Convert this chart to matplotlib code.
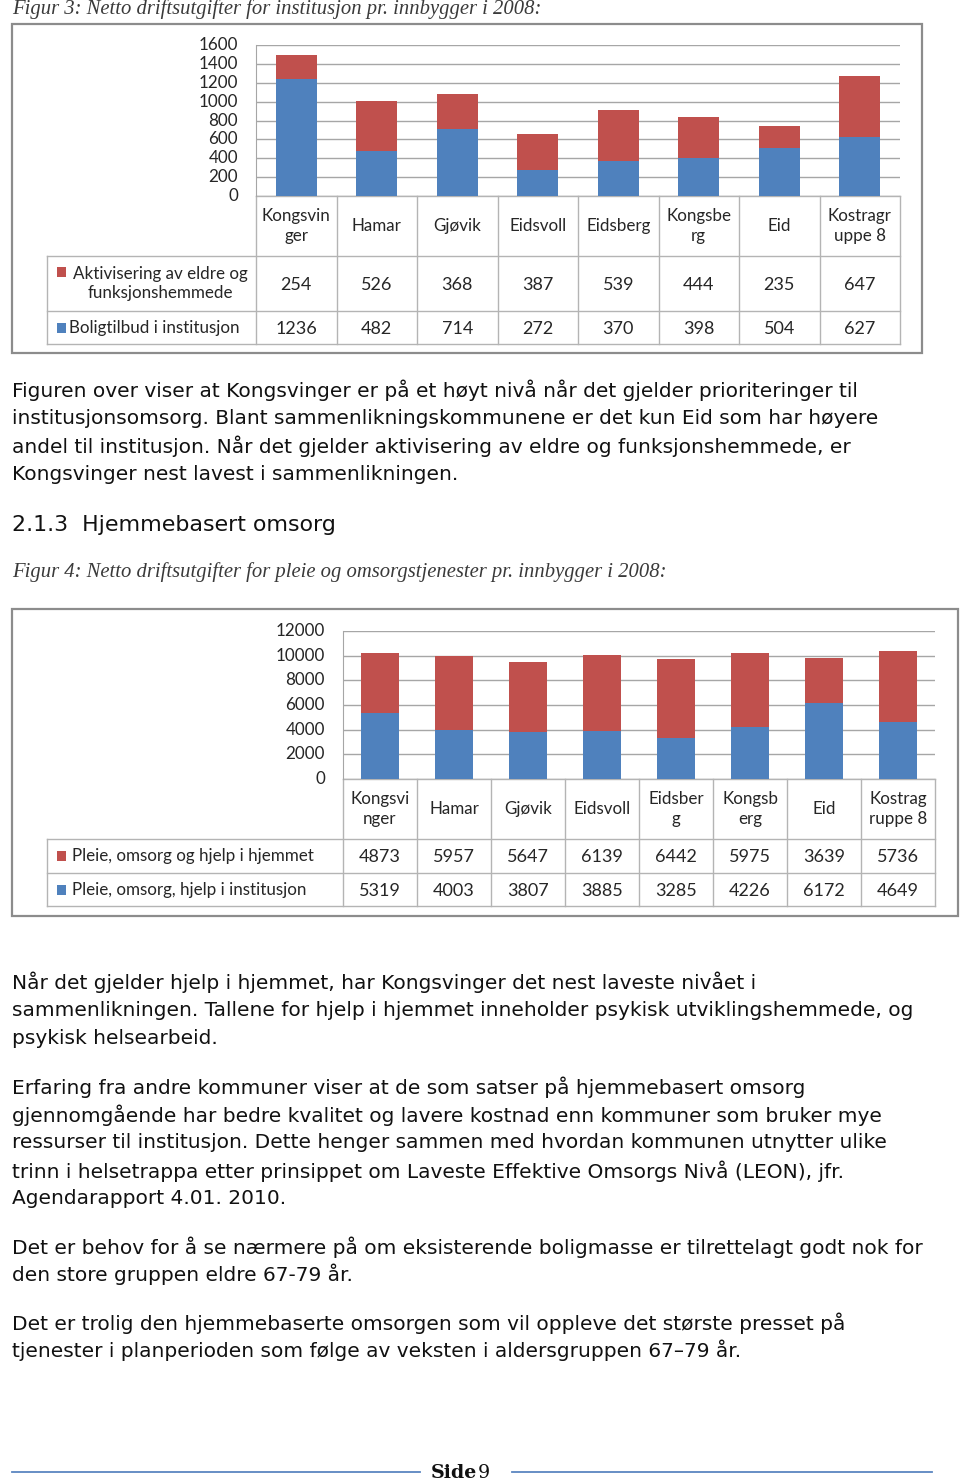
import numpy as np
import matplotlib.pyplot as plt
from matplotlib import transforms
from matplotlib.patches import Rectangle

W, H = 960, 1484

# figur 3 data
cat1 = ['Kongsvin\nger', 'Hamar', 'Gjøvik', 'Eidsvoll', 'Eidsberg', 'Kongsbe\nrg', 'Eid', 'Kostragr\nuppe 8']
aktiv = [254, 526, 368, 387, 539, 444, 235, 647]
bolig = [1236, 482, 714, 272, 370, 398, 504, 627]
ticks1 = [0, 200, 400, 600, 800, 1000, 1200, 1400, 1600]
ser1 = ['Aktivisering av eldre og\nfunksjonshemmede', 'Boligtilbud i institusjon']

# figur 4 data
cat2 = ['Kongsvi\nnger', 'Hamar', 'Gjøvik', 'Eidsvoll', 'Eidsber\ng', 'Kongsb\nerg', 'Eid', 'Kostrag\nruppe 8']
hjem = [4873, 5957, 5647, 6139, 6442, 5975, 3639, 5736]
inst = [5319, 4003, 3807, 3885, 3285, 4226, 6172, 4649]
ticks2 = [0, 2000, 4000, 6000, 8000, 10000, 12000]
ser2 = ['Pleie, omsorg og hjelp i hjemmet', 'Pleie, omsorg, hjelp i institusjon']

RED = '#c0504d'
BLUE = '#4f81bd'
GRID = '#a6a6a6'
CF = 'Lato'       # chart font
BF = 'DejaVu Sans'  # body font


def pt(px):
    return px * 0.72


fig = plt.figure(figsize=(W / 100, H / 100), dpi=100)
page = fig.add_axes([0, 0, 1, 1])
page.set_xlim(0, W)
page.set_ylim(H, 0)
page.axis('off')


def px_axes(x0, y0, x1, y1):
    return fig.add_axes([x0 / W, 1 - y1 / H, (x1 - x0) / W, (y1 - y0) / H])


def chart(box, area, rows, cats, top, bottom, ticks, names, tick_x, lab_x, lab_ha):
    # box = outer frame, area = plot area in page pixels
    x0, y0, x1, y1 = area
    r0, r1, r2, r3 = rows
    page.add_patch(Rectangle((box[0], box[1]), box[2] - box[0], box[3] - box[1],
                             fill=False, ec='#8c8c8c', lw=1.6))
    ax = px_axes(x0, y0, x1, y1)
    n = len(cats)
    idx = np.arange(n)
    ax.bar(idx, bottom, width=0.51, color=BLUE, zorder=3)
    ax.bar(idx, top, width=0.51, bottom=bottom, color=RED, zorder=3)
    ax.set_xlim(-0.5, n - 0.5)
    ax.set_ylim(0, ticks[-1])
    ax.set_yticks(ticks)
    ax.set_xticks([])
    ax.yaxis.grid(True, color=GRID, lw=1, zorder=0)
    ax.set_axisbelow(True)
    ax.patch.set_alpha(0)
    for s in ['top', 'right', 'bottom']:
        ax.spines[s].set_visible(False)
    ax.spines['left'].set_color(GRID)
    ax.tick_params(axis='y', length=0, labelleft=False)
    # y tick labels
    tr_y = transforms.blended_transform_factory(page.transData, ax.transData)
    for t in ticks:
        page.text(tick_x, t, str(t), transform=tr_y, ha='right', va='center',
                  fontsize=pt(17), family=CF, color='#262626')

    # data table under the plot
    tr = transforms.blended_transform_factory(ax.transData, page.transData)
    lc = '#b4b4b4'
    edges = np.arange(n + 1) - 0.5
    for e in edges:
        page.plot([e, e], [r0, r3], transform=tr, color=lc, lw=1)
    page.plot([x0, x1], [r0, r0], color=lc, lw=1)
    for r in [r1, r2, r3]:
        page.plot([47, x1], [r, r], color=lc, lw=1)
    page.plot([47, 47], [r1, r3], color=lc, lw=1)
    for i, c in enumerate(cats):
        page.text(i, (r0 + r1) / 2, c, transform=tr, ha='center', va='center',
                  fontsize=pt(17), family=CF, color='#262626', linespacing=1.35,
                  multialignment='center')
    for i in range(n):
        page.text(i, (r1 + r2) / 2 + 1, str(top[i]), transform=tr, ha='center', va='center',
                  fontsize=pt(18), family=CF, color='#262626')
        page.text(i, (r2 + r3) / 2 + 1, str(bottom[i]), transform=tr, ha='center', va='center',
                  fontsize=pt(18), family=CF, color='#262626')
    # legend keys
    for (ya, yb), col, name, lx, ha in zip([(r1, r2), (r2, r3)], [RED, BLUE], names, lab_x, lab_ha):
        yc = (ya + yb) / 2
        nl = name.count('\n')
        ky = yc - nl * 12
        page.add_patch(Rectangle((57, ky - 5), 9, 10, color=col, lw=0))
        page.text(lx, yc, name, ha=ha, va='center', fontsize=pt(17), family=CF,
                  color='#262626', linespacing=1.3, multialignment='center')
    return ax


# captions and text
def cap(y, s):
    page.text(12, y, s, ha='left', va='center', fontsize=pt(20.7), family='Liberation Serif',
              style='italic', color='#3a3a3a')


def body(y, s, size=20.2):
    page.text(12, y, s, ha='left', va='center', fontsize=pt(size), family=BF, color='#111111')


cap(9, 'Figur 3: Netto driftsutgifter for institusjon pr. innbygger i 2008:')
chart((12, 24, 922, 353), (256, 45, 900, 196), (196, 256, 311, 344),
      cat1, aktiv, bolig, ticks1, ser1, 238, [160, 69], ['center', 'left'])

body(390, 'Figuren over viser at Kongsvinger er på et høyt nivå når det gjelder prioriteringer til')
body(418, 'institusjonsomsorg. Blant sammenlikningskommunene er det kun Eid som har høyere')
body(446, 'andel til institusjon. Når det gjelder aktivisering av eldre og funksjonshemmede, er')
body(474, 'Kongsvinger nest lavest i sammenlikningen.')
body(525, '2.1.3  Hjemmebasert omsorg', 22.2)

cap(572, 'Figur 4: Netto driftsutgifter for pleie og omsorgstjenester pr. innbygger i 2008:')
chart((12, 609, 958, 916), (343, 631, 935, 779), (779, 839, 873, 906),
      cat2, hjem, inst, ticks2, ser2, 325, [72, 72], ['left', 'left'])

lines = [
    (982, 'Når det gjelder hjelp i hjemmet, har Kongsvinger det nest laveste nivået i'),
    (1011, 'sammenlikningen. Tallene for hjelp i hjemmet inneholder psykisk utviklingshemmede, og'),
    (1038, 'psykisk helsearbeid.'),
    (1087, 'Erfaring fra andre kommuner viser at de som satser på hjemmebasert omsorg'),
    (1115, 'gjennomgående har bedre kvalitet og lavere kostnad enn kommuner som bruker mye'),
    (1143, 'ressurser til institusjon. Dette henger sammen med hvordan kommunen utnytter ulike'),
    (1171, 'trinn i helsetrappa etter prinsippet om Laveste Effektive Omsorgs Nivå (LEON), jfr.'),
    (1198, 'Agendarapport 4.01. 2010.'),
    (1247, 'Det er behov for å se nærmere på om eksisterende boligmasse er tilrettelagt godt nok for'),
    (1274, 'den store gruppen eldre 67-79 år.'),
    (1323, 'Det er trolig den hjemmebaserte omsorgen som vil oppleve det største presset på'),
    (1350, 'tjenester i planperioden som følge av veksten i aldersgruppen 67–79 år.'),
]
for y, s in lines:
    body(y, s)

# footer
page.plot([12, 420], [1472, 1472], color='#5b86c0', lw=1.3)
page.plot([512, 932], [1472, 1472], color='#5b86c0', lw=1.3)
page.text(431, 1473, 'Side', ha='left', va='center', fontsize=pt(19), family='DejaVu Serif',
          weight='bold', color='#111111')
page.text(478, 1473, '9', ha='left', va='center', fontsize=pt(19), family='DejaVu Serif',
          color='#111111')

fig.savefig('out.png', dpi=100)
